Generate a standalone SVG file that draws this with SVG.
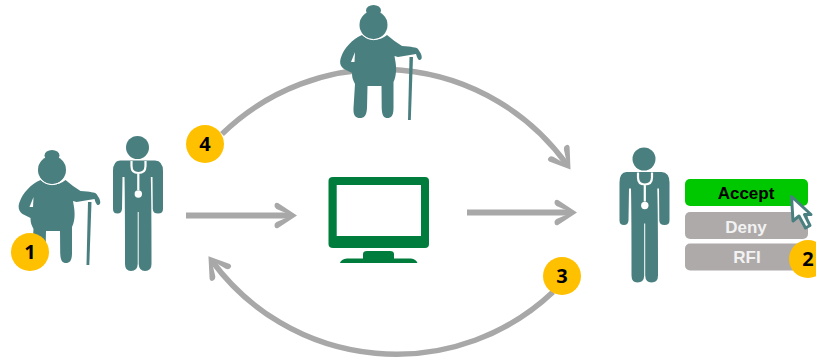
<svg xmlns="http://www.w3.org/2000/svg" width="816" height="361" viewBox="0 0 816 361">
<style>
.fig{fill:#4a7f80}
.cut{fill:none;stroke:#fff;stroke-width:1;stroke-linecap:round}
.conn{fill:none;stroke:#a8a8a8;stroke-width:5.500}
.badge{fill:#ffc000}
.num{font:bold 20px "Open Sans","Liberation Sans",sans-serif;fill:#000;text-anchor:middle}
.btn{font:bold 17px "Liberation Sans",Arial,sans-serif;text-anchor:middle}
</style>
<defs>
<marker id="arrow" markerUnits="userSpaceOnUse" markerWidth="36" markerHeight="32" refX="0" refY="0" orient="auto" viewBox="-26 -16 36 32">
<path fill="#a8a8a8" d="M6,0 L-13,-12.500 Q-16,-13.500 -16.500,-10.500 Q-17,-8 -14.500,-6.500 L-4,-2 V2 L-14.500,6.500 Q-17,8 -16.500,10.500 Q-16,13.500 -13,12.500 Z"/>
</marker>
<g id="doctor">
<circle cx="137.500" cy="147.500" r="11.500" class="fig"/>
<path class="fig" d="M120,160.500 H155 Q163,161 163,171 V209 Q163,213.500 158,213.500 Q153,213.500 152.800,209 L152.500,177 H150.800 Q151.500,200 151.500,264 Q151.500,271 145,271 Q139,271 138.700,264 V212 H137.700 V264 Q137.500,271 131,271 Q125,271 125,264 Q125,200 124.500,177 H122.500 L122,209 Q121.500,213.500 117.500,213.500 Q113,213.500 113,209 V171 Q113,161 120,160.500 Z"/>
<path d="M131.500,161 V166 Q131.500,173 138.300,173 Q145.500,173 145.500,166 V161 M138.300,173 V190" fill="none" stroke="#fff" stroke-width="2.200"/>
<circle cx="138.300" cy="194" r="3.700" fill="#fff"/>
</g>
<g id="granny">
<ellipse cx="373.500" cy="10.500" rx="7.500" ry="5.500" class="fig"/>
<path class="fig" d="M362,35 C352,39 344,49 341.500,56 C339,62 340,66 344,69 L352,73 C352,78 353,80 355,84 L353.500,108 C353,116 356,118 360,118 C364,118 366.500,116 367,108 L367.500,86 H381.500 L381.700,108 C382,116 384,118 387.500,118 C391,118 393.500,116 393.500,108 L393.500,82 C396.500,76 396.500,68 395.500,62 L394.500,56 L398,57 L416,54 C417,57 418,60.500 420,60 C422.500,59 422,56 420.500,53 L418,49 C416,47 412,47 402,46 C397,43 392,39 387,35 C380,41 369,41 362,35 Z"/>
<path class="fig" d="M409.500,57 L413,57 L410.800,120 L408,120 Z"/>
<path d="M351,62 L355,52 L354.500,62 Z" fill="#fff"/>
<circle cx="373.500" cy="25" r="14" class="fig"/>
<path class="cut" d="M361,33 A14.800,14.800 0 0 0 386,33"/>
</g>
</defs>

<g id="connectors">
<path class="conn" marker-end="url(#arrow)" d="M222,134 A228.500,228.500 0 0 1 567,164.700"/>
<path class="conn" marker-end="url(#arrow)" d="M553,292 A228.500,228.500 0 0 1 212,261"/>
<path class="conn" style="stroke-width:6" marker-end="url(#arrow)" d="M186,215.500 H291"/>
<path class="conn" style="stroke-width:6" marker-end="url(#arrow)" d="M467,212.500 H571"/>
</g>

<g id="patient-seated"><use href="#granny"/></g>
<g id="patient-standing"><use href="#granny" transform="translate(-321.500,145)"/></g>
<g id="clinician-left"><use href="#doctor"/></g>
<g id="clinician-right"><use href="#doctor" transform="translate(506.500,11.500)"/></g>

<g id="monitor" fill="#007d3c">
<path fill-rule="evenodd" d="M333,177 H425 Q429,177 429,181 V244 Q429,248 425,248 H333 Q328.500,248 328.500,244 V181 Q328.500,177 333,177 Z M336.700,185 V236 H421 V185 Z"/>
<path d="M340,263 Q341,259 347,258.500 H363 V254 Q363,251 367,251 H390 Q394,251 394,254 V258.500 H411 Q416,259 417.500,263 Z"/>
</g>

<g id="button-accept">
<rect x="685" y="179" width="123" height="27" rx="5" fill="#00c800"/>
<text class="btn" x="746" y="198.500" fill="#000">Accept</text>
</g>
<g id="button-deny">
<rect x="685" y="212" width="123" height="27" rx="5" fill="#aeaaaa"/>
<text class="btn" x="746" y="232.500" fill="#f2f2f2">Deny</text>
</g>
<g id="button-rfi">
<rect x="685" y="243.500" width="123" height="27" rx="5" fill="#aeaaaa"/>
<text class="btn" x="747" y="263" fill="#f2f2f2">RFI</text>
</g>
<g id="cursor">
<path d="M791.500,196.500 L793,221 L799,216 L805.500,228 L810,225.500 L804.500,214.500 L811,214.500 Z" fill="#fff" stroke="#4a7f80" stroke-width="3" stroke-linejoin="round"/>
</g>

<g id="badge-1"><circle class="badge" cx="30" cy="252" r="19"/><text class="num" x="30" y="259">1</text></g>
<g id="badge-2"><circle class="badge" cx="808" cy="259" r="19"/><text class="num" x="808" y="266">2</text></g>
<g id="badge-3"><circle class="badge" cx="562" cy="276" r="19"/><text class="num" x="562" y="283">3</text></g>
<g id="badge-4"><circle class="badge" cx="205" cy="144" r="19"/><text class="num" x="205" y="151">4</text></g>
</svg>
